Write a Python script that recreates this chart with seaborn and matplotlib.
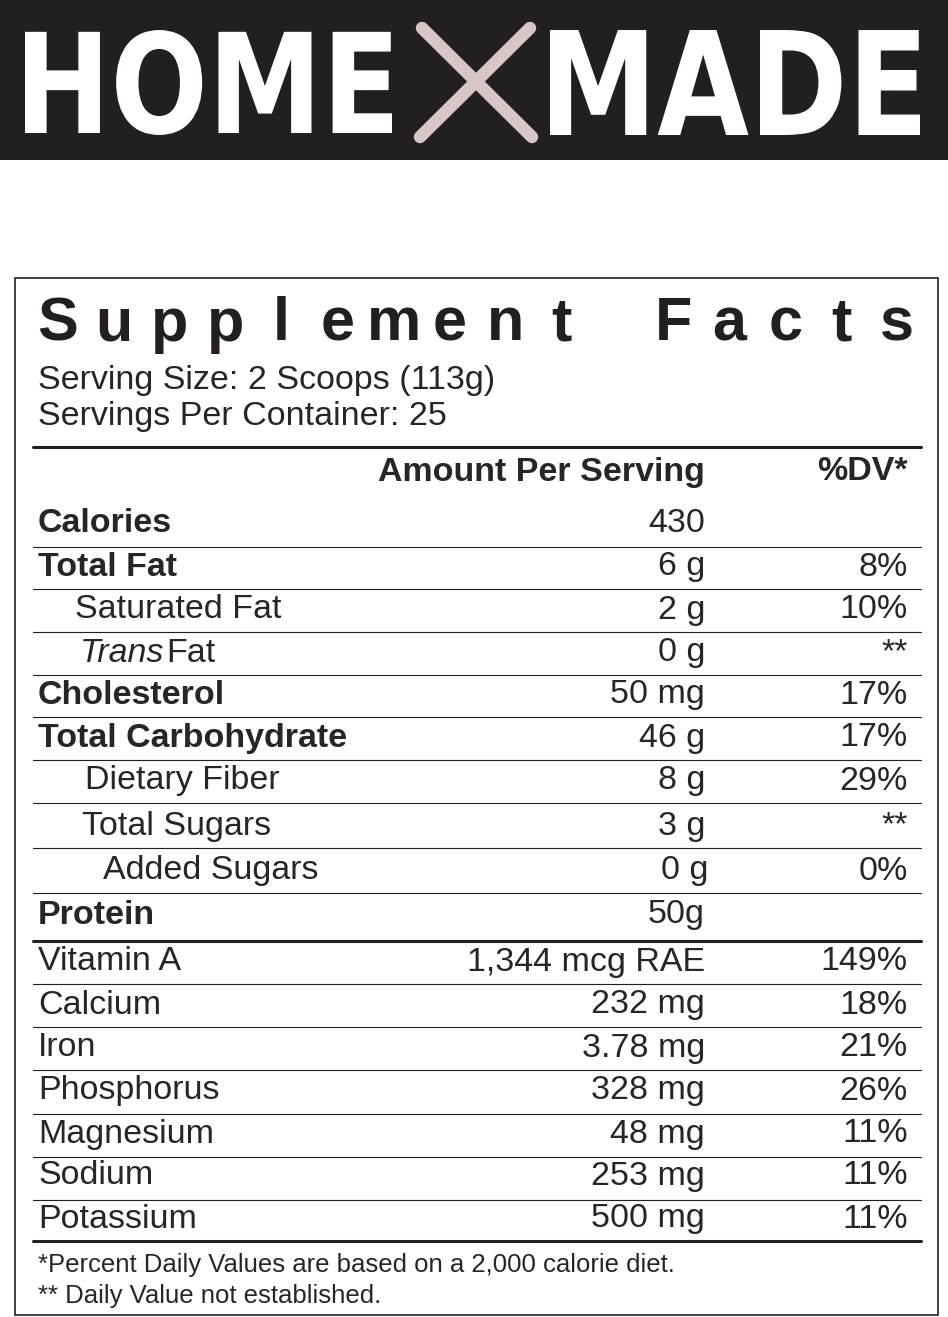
import matplotlib
matplotlib.use("Agg")
import matplotlib.pyplot as plt
import seaborn as sns
from matplotlib.textpath import TextPath
from matplotlib.font_manager import FontProperties
from matplotlib.patches import PathPatch, Rectangle
from matplotlib.transforms import Affine2D

sns.set_theme(style="white")

# ---- data ----
title = "Supplement Facts"
serving_size = "Serving Size: 2 Scoops (113g)"
servings_per = "Servings Per Container: 25"
nutrients = ["Calories", "Total Fat", "Saturated Fat", "Trans Fat", "Cholesterol",
             "Total Carbohydrate", "Dietary Fiber", "Total Sugars", "Added Sugars", "Protein",
             "Vitamin A", "Calcium", "Iron", "Phosphorus", "Magnesium", "Sodium", "Potassium"]
amounts = ["430", "6 g", "2 g", "0 g", "50 mg", "46 g", "8 g", "3 g", "0 g", "50g",
           "1,344 mcg RAE", "232 mg", "3.78 mg", "328 mg", "48 mg", "253 mg", "500 mg"]
daily_values = ["", "8%", "10%", "**", "17%", "17%", "29%", "**", "0%", "",
                "149%", "18%", "21%", "26%", "11%", "11%", "11%"]
footnotes = ["*Percent Daily Values are based on a 2,000 calorie diet.",
             "** Daily Value not established."]

# ---- layout / style ----
bold_rows = {"Calories", "Total Fat", "Cholesterol", "Total Carbohydrate", "Protein"}
indent = {"Saturated Fat": 75, "Trans Fat": 80, "Dietary Fiber": 85,
          "Total Sugars": 82, "Added Sugars": 103}
row_y = [523, 567, 610, 653, 695, 738, 781, 826, 871, 915,
         962, 1005, 1048, 1091, 1134, 1176, 1219]
thin_lines = [547, 589, 632, 675, 717, 760, 803, 848, 893, 984, 1027, 1070, 1114, 1157, 1200]
thick_lines = [447, 941, 1241]
FONT = ["Liberation Sans", "Arimo", "Arial", "Roboto", "DejaVu Sans"]
plt.rcParams["font.family"] = FONT
plt.rcParams["font.sans-serif"] = FONT
FS = 24.5

W, H = 948, 1317
fig = plt.figure(figsize=(W / 100, H / 100), dpi=100)
ax = fig.add_axes([0, 0, 1, 1])
ax.set_xlim(0, W)
ax.set_ylim(H, 0)
ax.axis("off")


def fit_text(s, x0, y0, x1, y1, color, weight="heavy", family="DejaVu Sans"):
    fp = FontProperties(family=family, weight=weight)
    tp = TextPath((0, 0), s, size=100, prop=fp)
    bb = tp.get_extents()
    sx = (x1 - x0) / bb.width
    sy = (y1 - y0) / bb.height
    tr = Affine2D().translate(-bb.x0, -bb.y0).scale(sx, -sy).translate(x0, y1)
    ax.add_patch(PathPatch(tr.transform_path(tp), color=color, lw=0))


# banner
ax.add_patch(Rectangle((0, 0), W, 160, color="#231f20", lw=0))
fit_text("HOME", 25, 30, 392, 135, "white")
fit_text("MADE", 550, 30, 920, 135, "white")
ax.plot([422, 532], [28, 137], color="#d8c6c6", lw=9, solid_capstyle="round")
ax.plot([530, 420], [28, 137], color="#d8c6c6", lw=9, solid_capstyle="round")

# box
ax.add_patch(Rectangle((15, 278), 923, 1037, fill=False, ec="#231f20", lw=1.2))

# title with evenly spaced letters
chars = list(title)
x_start, x_end = 58, 897
step = (x_end - x_start) / (len(chars) - 1)
for i, c in enumerate(chars):
    ax.text(x_start + i * step, 325, c, fontsize=44, fontweight="bold",
            ha="center", va="center", color="#231f20")

ax.text(38, 380, serving_size, fontsize=FS, va="center")
ax.text(38, 417, servings_per, fontsize=FS, va="center")

for y in thick_lines:
    ax.plot([33, 921], [y, y], color="#231f20", lw=2.2)
for y in thin_lines:
    ax.plot([33, 921], [y, y], color="#231f20", lw=0.8)

ax.text(705, 472, "Amount Per Serving", fontsize=FS, fontweight="bold", ha="right", va="center")
ax.text(908, 472, "%DV*", fontsize=FS, fontweight="bold", ha="right", va="center")

for name, amt, dv, y in zip(nutrients, amounts, daily_values, row_y):
    x = indent.get(name, 38)
    w = "bold" if name in bold_rows else "normal"
    if name == "Trans Fat":
        t = ax.text(x, y, "Trans", fontsize=FS, style="italic", va="center")
        ax.text(x + 86, y, "Fat", fontsize=FS, va="center")
    else:
        ax.text(x, y, name, fontsize=FS, fontweight=w, va="center")
    ax_x = 708 if name == "Added Sugars" else 705
    ax.text(ax_x, y, amt, fontsize=FS, ha="right", va="center")
    if dv:
        ax.text(908, y, dv, fontsize=FS, ha="right", va="center")

ax.text(38, 1265, footnotes[0], fontsize=18.5, va="center")
ax.text(38, 1296, footnotes[1], fontsize=18.5, va="center")

fig.savefig("out.png", dpi=100)
